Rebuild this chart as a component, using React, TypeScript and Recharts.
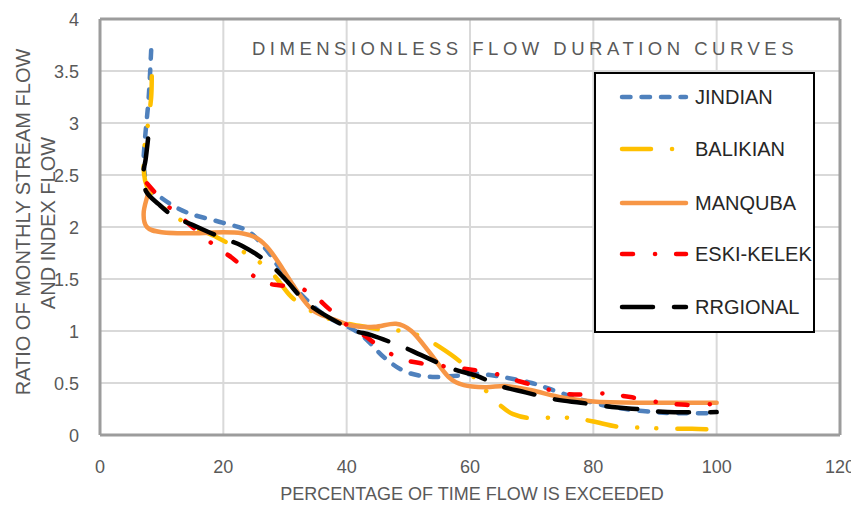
import React from "react";
import {
  LineChart,
  Line,
  XAxis,
  YAxis,
  CartesianGrid,
  ReferenceLine,
  Customized,
} from "recharts";

const FONT = "'Liberation Sans', Arial, sans-serif";
const FRAME = "#9c9c9c";

const xTicks = [0, 20, 40, 60, 80, 100, 120];
const yTicks = [0, 0.5, 1, 1.5, 2, 2.5, 3, 3.5, 4];

// values (percent exceeded, ratio)
const jindianX = [8.3, 7.9, 7.3, 7.1, 7.8, 9.5, 12, 15, 20, 24, 27, 30, 33.5, 37, 42, 46, 49.5, 53.5, 58, 61, 65, 70, 74, 78, 83, 88, 93, 100];
const jindianY = [3.7, 3.25, 2.85, 2.6, 2.38, 2.3, 2.2, 2.12, 2.04, 1.96, 1.78, 1.53, 1.3, 1.13, 0.98, 0.75, 0.61, 0.56, 0.57, 0.59, 0.56, 0.5, 0.42, 0.34, 0.27, 0.23, 0.21, 0.21];

const balikianX = [8.4, 8.3, 7.8, 7.1, 7.3, 8.5, 11, 14.5, 19, 22, 25, 28, 31, 34, 38, 42, 46, 49, 52, 55, 58.5, 61, 63, 65, 67, 70, 74, 77, 80, 84, 88, 92, 96, 100];
const balikianY = [3.45, 3.25, 3.0, 2.7, 2.45, 2.3, 2.15, 2.02, 1.9, 1.8, 1.7, 1.55, 1.33, 1.2, 1.1, 1.05, 1.01, 1.0, 0.95, 0.85, 0.7, 0.53, 0.4, 0.28, 0.2, 0.16, 0.17, 0.16, 0.13, 0.08, 0.07, 0.06, 0.06, 0.05];

const manqubaX = [8.1, 7.1, 7.6, 10, 15, 20, 23, 25.5, 27.5, 29.7, 32, 34.5, 37.5, 41, 44.5, 48, 50.5, 53.5, 56.5, 59, 62.5, 66, 70, 75, 80.5, 91, 100];
const manqubaY = [2.38, 2.15, 2.0, 1.95, 1.94, 1.95, 1.94, 1.89, 1.78, 1.59, 1.38, 1.2, 1.12, 1.05, 1.04, 1.07, 1.0, 0.79, 0.56, 0.48, 0.46, 0.47, 0.43, 0.36, 0.32, 0.31, 0.31];

const eskiX = [7.6, 10.5, 13, 16, 19, 21.5, 24, 26.5, 29, 32, 34.5, 37, 40, 43, 46, 49, 52, 56, 60, 64, 66, 69, 72, 75, 78, 81, 83, 86, 90, 95, 100];
const eskiY = [2.42, 2.23, 2.1, 1.95, 1.8, 1.7, 1.57, 1.47, 1.44, 1.42, 1.35, 1.22, 1.06, 0.95, 0.82, 0.73, 0.69, 0.66, 0.63, 0.59, 0.55, 0.5, 0.45, 0.4, 0.39, 0.4, 0.39, 0.365, 0.32, 0.29, 0.3];

const regionalX = [7.8, 7.4, 7.0, 7.5, 9.5, 12, 15, 20, 23, 27, 30, 33, 36, 41, 44, 49, 52, 57, 61, 65, 69, 74, 78, 83, 87, 92, 100];
const regionalY = [2.85, 2.65, 2.5, 2.34, 2.22, 2.1, 2.02, 1.89, 1.82, 1.67, 1.5, 1.3, 1.17, 1.01, 0.96, 0.85, 0.77, 0.64, 0.57, 0.47, 0.41, 0.34, 0.31, 0.27, 0.25, 0.22, 0.22];

const toPoints = (xs: number[], ys: number[]) => xs.map((x, i) => ({ x, y: ys[i] }));

const series = [
  { name: "JINDIAN", data: toPoints(jindianX, jindianY), color: "#4f81bd", dash: "8.5 11" },
  { name: "BALIKIAN", data: toPoints(balikianX, balikianY), color: "#ffc000", dash: "29 21 0.1 19 0.1 21" },
  { name: "MANQUBA", data: toPoints(manqubaX, manqubaY), color: "#f79646", dash: undefined },
  { name: "ESKI-KELEK", data: toPoints(eskiX, eskiY), color: "#ff0000", dash: "11 22 0.1 21" },
  { name: "RRGIONAL", data: toPoints(regionalX, regionalY), color: "#000000", dash: "31 21" },
];

// catmull-rom style smoothing, like excel's smoothed lines
const smooth = (context: any) => {
  let pts: number[][] = [];
  return {
    areaStart() {},
    areaEnd() {},
    lineStart() {
      pts = [];
    },
    point(x: number, y: number) {
      pts.push([+x, +y]);
    },
    lineEnd() {
      const n = pts.length;
      if (!n) return;
      context.moveTo(pts[0][0], pts[0][1]);
      for (let i = 0; i < n - 1; i++) {
        const p0 = pts[Math.max(i - 1, 0)];
        const p1 = pts[i];
        const p2 = pts[i + 1];
        const p3 = pts[Math.min(i + 2, n - 1)];
        context.bezierCurveTo(
          p1[0] + (p2[0] - p0[0]) / 6,
          p1[1] + (p2[1] - p0[1]) / 6,
          p2[0] - (p3[0] - p1[0]) / 6,
          p2[1] - (p3[1] - p1[1]) / 6,
          p2[0],
          p2[1]
        );
      }
    },
  };
};

const XTick = ({ x, payload }: any) => (
  <text x={x} y={465} textAnchor="middle" fontSize={18} fill="#595959" fontFamily={FONT}>
    {payload.value}
  </text>
);

const YTick = ({ y, payload }: any) => (
  <text x={71} y={y + 6.5} textAnchor="end" fontSize={18} fill="#595959" fontFamily={FONT}>
    {payload.value}
  </text>
);

const Titles = () => (
  <g fontFamily={FONT} fill="#595959">
    <text x={244} y={47} fontSize={18.5} letterSpacing={4.5}>
      DIMENSIONLESS FLOW DURATION CURVES
    </text>
    <text x={464} y={486} fontSize={18} textAnchor="middle" dominantBaseline="central">
      PERCENTAGE OF TIME FLOW IS EXCEEDED
    </text>
    <text
      x={15}
      y={214}
      fontSize={20}
      textAnchor="middle"
      dominantBaseline="central"
      transform="rotate(-90 15 214)"
    >
      RATIO OF MONTHLY STREAM FLOW
    </text>
    <text
      x={40}
      y={215}
      fontSize={20}
      textAnchor="middle"
      dominantBaseline="central"
      transform="rotate(-90 40 215)"
    >
      AND INDEX FLOW
    </text>
  </g>
);

const legendRows = [25, 77, 131, 182, 235];

const LegendBox = () => (
  <svg
    width={221}
    height={261}
    style={{ position: "absolute", left: 586, top: 64, background: "#fff" }}
  >
    <rect x={1} y={1} width={219} height={259} fill="#fff" stroke="#000" strokeWidth={2} />
    {series.map((s, i) => (
      <g key={s.name}>
        <line
          x1={28}
          x2={92}
          y1={legendRows[i]}
          y2={legendRows[i]}
          stroke={s.color}
          strokeWidth={4.5}
          strokeLinecap="round"
          strokeDasharray={s.dash}
        />
        <text
          x={101}
          y={legendRows[i]}
          fontSize={20}
          fontFamily={FONT}
          fill="#262626"
          dominantBaseline="central"
        >
          {s.name}
        </text>
      </g>
    ))}
  </svg>
);

export default function App() {
  return (
    <div style={{ position: "relative", width: 851, height: 499, background: "#fff" }}>
      <LineChart width={851} height={499} margin={{ top: 11, right: 19, bottom: 0, left: 0 }}>
        <CartesianGrid stroke="#d9d9d9" strokeWidth={2} />
        <XAxis
          type="number"
          dataKey="x"
          domain={[0, 120]}
          ticks={xTicks}
          height={72}
          axisLine={{ stroke: FRAME, strokeWidth: 3 }}
          tickLine={false}
          tick={<XTick />}
        />
        <YAxis
          type="number"
          dataKey="y"
          domain={[0, 4]}
          ticks={yTicks}
          width={92}
          axisLine={{ stroke: FRAME, strokeWidth: 3 }}
          tickLine={false}
          tick={<YTick />}
        />
        <ReferenceLine y={4} stroke={FRAME} strokeWidth={3} ifOverflow="visible" />
        <ReferenceLine x={120} stroke={FRAME} strokeWidth={3} ifOverflow="visible" />
        {series.map((s) => (
          <Line
            key={s.name}
            data={s.data}
            dataKey="y"
            name={s.name}
            type={smooth as any}
            stroke={s.color}
            strokeWidth={4.5}
            strokeLinecap="round"
            strokeDasharray={s.dash}
            dot={false}
            activeDot={false}
            isAnimationActive={false}
          />
        ))}
        <Customized component={<Titles />} />
      </LineChart>
      <LegendBox />
    </div>
  );
}
